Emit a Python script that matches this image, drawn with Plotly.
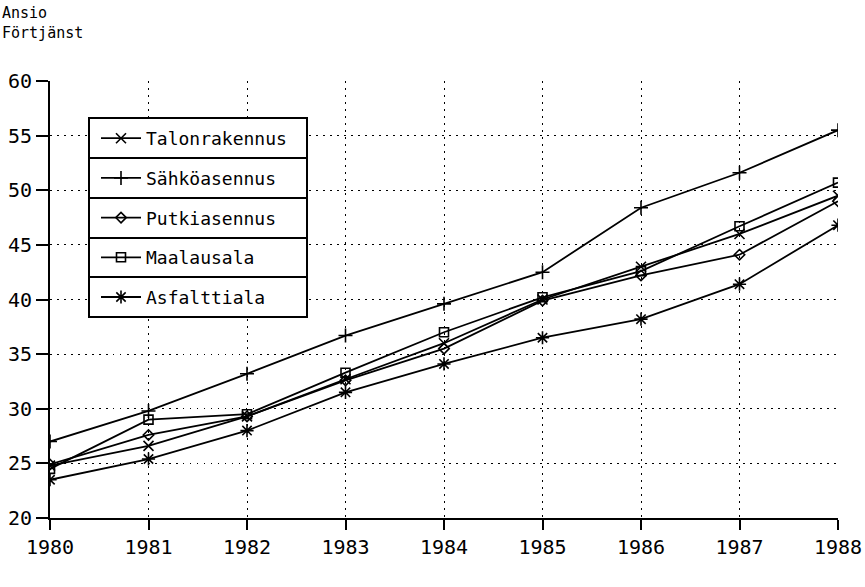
import plotly.graph_objects as go

years = [1980, 1981, 1982, 1983, 1984, 1985, 1986, 1987, 1988]
talonrakennus = [24.8, 26.6, 29.3, 32.7, 36.0, 40.0, 43.0, 46.0, 49.5]
sahkoasennus = [27.0, 29.8, 33.2, 36.7, 39.6, 42.5, 48.4, 51.6, 55.5]
putkiasennus = [24.9, 27.6, 29.3, 32.6, 35.5, 39.9, 42.2, 44.1, 49.0]
maalausala = [24.5, 29.0, 29.5, 33.3, 37.0, 40.2, 42.6, 46.7, 50.7]
asfalttiala = [23.5, 25.4, 28.0, 31.5, 34.1, 36.5, 38.2, 41.4, 46.8]

series = [
    ("Talonrakennus", talonrakennus, "x-thin-open", 10),
    ("Sähköasennus", sahkoasennus, "cross-thin-open", 10),
    ("Putkiasennus", putkiasennus, "diamond-open", 8),
    ("Maalausala", maalausala, "square-open", 9),
    ("Asfalttiala", asfalttiala, "asterisk-open", 11),
]

FONT = "DejaVu Sans Mono"

fig = go.Figure()
for i, (name, vals, sym, sz) in enumerate(series):
    fig.add_trace(go.Scatter(
        x=years, y=vals, name=name, mode="lines+markers",
        line=dict(color="black", width=1.8),
        marker=dict(symbol=sym, size=sz, color="black",
                    line=dict(color="black", width=1.6)),
        legendgroup=f"g{i}",
    ))

W, H = 865, 587
L, R, T, B = 50, 27, 81, 69
pw, ph = W - L - R, H - T - B


def px_x(x):
    return (x - L) / pw


def px_y(y):
    return (H - B - y) / ph


# legend box rows (pixel positions)
box_left, box_right = 89, 307
row_edges = [118, 158, 198, 238, 277, 317]
shapes = []
for top, bot in zip(row_edges[:-1], row_edges[1:]):
    shapes.append(dict(type="rect", xref="paper", yref="paper",
                       x0=px_x(box_left), x1=px_x(box_right),
                       y0=px_y(bot), y1=px_y(top),
                       line=dict(color="black", width=2), fillcolor="white",
                       layer="above"))

fig.update_layout(
    width=W, height=H,
    margin=dict(l=L, r=R, t=T, b=B, autoexpand=False),
    paper_bgcolor="white", plot_bgcolor="white",
    font=dict(family=FONT, color="black", size=18),
    showlegend=True,
    legend=dict(
        x=px_x(box_left + 7), y=px_y(row_edges[0] + 2), xanchor="left", yanchor="top",
        borderwidth=0, bgcolor="rgba(0,0,0,0)",
        font=dict(family=FONT, size=18, color="black"),
        tracegroupgap=13.3, itemwidth=40,
    ),
    shapes=shapes,
    xaxis=dict(
        range=[1980, 1988], tickmode="array", tickvals=years,
        ticktext=[str(y) for y in years], automargin=False,
        showline=True, linecolor="black", linewidth=2,
        ticks="outside", ticklen=10, tickwidth=2, tickcolor="black",
        showgrid=True, gridcolor="black", griddash="1.5px,5.5px", gridwidth=1.3,
        zeroline=False, tickfont=dict(family=FONT, size=20),
    ),
    yaxis=dict(
        range=[20, 60], tickmode="array", tickvals=[20, 25, 30, 35, 40, 45, 50, 55, 60],
        automargin=False,
        showline=True, linecolor="black", linewidth=2,
        ticks="outside", ticklen=12, tickwidth=2, tickcolor="black",
        showgrid=True, gridcolor="black", griddash="1.5px,5.5px", gridwidth=1.3,
        zeroline=False, tickfont=dict(family=FONT, size=20),
    ),
    annotations=[
        dict(text="Ansio<br>Förtjänst", xref="paper", yref="paper",
             x=px_x(0), y=px_y(2), xanchor="left", yanchor="top",
             showarrow=False, align="left",
             font=dict(family=FONT, size=15, color="black")),
    ],
)

fig.write_html("out.html", post_script="document.body.style.margin='0';",
               config={"displayModeBar": False})
